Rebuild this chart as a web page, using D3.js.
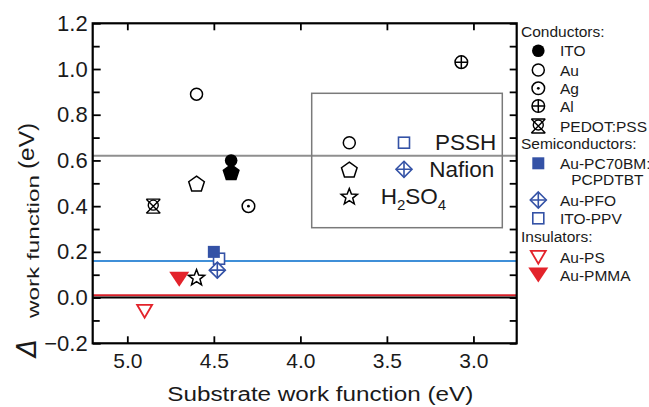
<!DOCTYPE html>
<html>
<head>
<meta charset="utf-8">
<script src="https://cdn.jsdelivr.net/npm/d3@7"></script>
<style>
  html, body { margin: 0; padding: 0; background: #fff; }
  svg { display: block; font-family: "Liberation Sans", Arial, Helvetica, sans-serif; }
</style>
</head>
<body>
<svg id="chart" width="649" height="407"></svg>
<script>
// ---------------- DATA ----------------
const xTicks = [5.0, 4.5, 4.0, 3.5, 3.0];
const yTicks = [-0.2, 0.0, 0.2, 0.4, 0.6, 0.8, 1.0, 1.2];
const yMinorTicks = [-0.1, 0.1, 0.3, 0.5, 0.7, 0.9, 1.1];

// reference lines (value, colour)
const refValues = [0.62, 0.16, 0.01, 0.0];
const refColors = ["#8f8f8f", "#3f8fd8", "#d8202a", "#000000"];

// data points: substrate work function (eV), delta work function (eV), marker
const pedotX = [4.85], pedotY = [0.40];
const auX = [4.60, 4.60, 4.60], auY = [0.89, 0.50, 0.09], auShape = ["circle-open", "pentagon-open", "star-open"];
const itoX = [4.40, 4.40], itoY = [0.55, 0.60], itoShape = ["pentagon-filled", "circle-filled"];
const agX = [4.30], agY = [0.40];
const alX = [3.07], alY = [1.03];
const itoPpvX = [4.47], itoPpvY = [0.17];
const auPfoX = [4.48], auPfoY = [0.12];
const auPcbmX = [4.50], auPcbmY = [0.20];
const auPsX = [4.90], auPsY = [-0.06];
const auPmmaX = [4.70], auPmmaY = [0.08];

const legendGroups = ["Conductors:", "Semiconductors:", "Insulators:"];
const legendConductors = ["ITO", "Au", "Ag", "Al", "PEDOT:PSS"];
const legendConductorShapes = ["circle-filled", "circle-open", "circle-dot", "circle-plus", "pedot"];
const legendSemis = ["Au-PC70BM:", "Au-PFO", "ITO-PPV"];
const legendSemiShapes = ["square-filled", "diamond-plus", "square-open"];
const legendInsulators = ["Au-PS", "Au-PMMA"];
const legendInsulatorShapes = ["tri-open", "tri-filled"];
const insetLabels = ["PSSH", "Nafion", "H2SO4"];

// ---------------- LAYOUT ----------------
const BLUE = "#3452a6", RED = "#e3232b";
const svg = d3.select("#chart");
const L = 92.7, R = 516.7, T = 23.3, B = 343.3;
const x = d3.scaleLinear().domain([5.2, 2.75]).range([L, R]);
const y = d3.scaleLinear().domain([-0.2, 1.2]).range([B, T]);

// ---------------- MARKERS ----------------
function marker(g, type) {
  const sw = 1.5;
  switch (type) {
    case "circle-filled":
      g.append("circle").attr("r", 6.3).attr("fill", "#000"); break;
    case "circle-open":
      g.append("circle").attr("r", 6).attr("fill", "#fff").attr("stroke", "#000").attr("stroke-width", sw); break;
    case "circle-dot":
      g.append("circle").attr("r", 6.3).attr("fill", "#fff").attr("stroke", "#000").attr("stroke-width", sw);
      g.append("circle").attr("r", 1.4).attr("fill", "#000"); break;
    case "circle-plus":
      g.append("circle").attr("r", 6.3).attr("fill", "#fff").attr("stroke", "#000").attr("stroke-width", sw);
      g.append("path").attr("d", "M-6.3,0H6.3M0,-6.3V6.3").attr("stroke", "#000").attr("stroke-width", sw); break;
    case "pedot":
      g.append("path").attr("d", "M-7,-7H7M-7,7H7M-7,-7L7,7M7,-7L-7,7")
        .attr("fill", "none").attr("stroke", "#000").attr("stroke-width", 1.4);
      g.append("circle").attr("cy", -1).attr("r", 5).attr("fill", "none").attr("stroke", "#000").attr("stroke-width", 1.4); break;
    case "pentagon-open":
    case "pentagon-filled": {
      const r = 8.2, pts = [];
      for (let i = 0; i < 5; i++) { const a = -Math.PI / 2 + i * 2 * Math.PI / 5; pts.push([r * Math.cos(a), r * Math.sin(a) + 1]); }
      const filled = type === "pentagon-filled";
      g.append("path").attr("d", "M" + pts.join("L") + "Z")
        .attr("fill", filled ? "#000" : "#fff").attr("stroke", "#000").attr("stroke-width", sw).attr("stroke-linejoin", "miter");
      break; }
    case "star-open": {
      const ro = 8.5, ri = 3.6, pts = [];
      for (let i = 0; i < 10; i++) { const a = -Math.PI / 2 + i * Math.PI / 5; const r = i % 2 ? ri : ro; pts.push([r * Math.cos(a), r * Math.sin(a) + 1]); }
      g.append("path").attr("d", "M" + pts.join("L") + "Z").attr("fill", "#fff").attr("stroke", "#000").attr("stroke-width", sw); break; }
    case "square-filled":
      g.append("rect").attr("x", -6).attr("y", -6).attr("width", 12).attr("height", 12).attr("fill", BLUE); break;
    case "square-open":
      g.append("rect").attr("x", -5.5).attr("y", -5.5).attr("width", 11).attr("height", 11).attr("fill", "#fff").attr("stroke", BLUE).attr("stroke-width", 1.6); break;
    case "diamond-plus":
      g.append("path").attr("d", "M0,-8L8,0L0,8L-8,0Z").attr("fill", "#fff").attr("stroke", BLUE).attr("stroke-width", 1.6);
      g.append("path").attr("d", "M-8,0H8M0,-8V8").attr("stroke", BLUE).attr("stroke-width", 1.6); break;
    case "tri-open":
      g.append("path").attr("d", "M-7.5,-6.5H7.5L0,6.5Z").attr("fill", "#fff").attr("stroke", RED).attr("stroke-width", 1.8).attr("stroke-linejoin", "miter"); break;
    case "tri-filled":
      g.append("path").attr("d", "M-10,-7.5H10L0,7.5Z").attr("fill", RED); break;
  }
}

// ---------------- REFERENCE LINES ----------------
svg.append("g").selectAll("line").data(refValues).join("line")
  .attr("x1", L).attr("x2", R)
  .attr("y1", d => y(d)).attr("y2", d => y(d))
  .attr("stroke", (d, i) => refColors[i]).attr("stroke-width", 2);

// ---------------- INSET LEGEND BOX ----------------
const inset = svg.append("g");
inset.append("rect").attr("x", 311.7).attr("y", 93.3).attr("width", 190.6).attr("height", 134.4)
  .attr("fill", "none").attr("stroke", "#7a7a7a").attr("stroke-width", 1.5);
const insetRows = [142.7, 169.3, 196];
[["circle-open", "square-open"], ["pentagon-open", "diamond-plus"], ["star-open", null]].forEach((pair, i) => {
  marker(inset.append("g").attr("transform", `translate(349.3,${insetRows[i]})`), pair[0]);
  if (pair[1]) marker(inset.append("g").attr("transform", `translate(404,${insetRows[i]})`), pair[1]);
});
inset.append("text").attr("x", 435).attr("y", 150).attr("font-size", 22.5).attr("fill", "#1a1a1a").text(insetLabels[0]);
inset.append("text").attr("x", 429.3).attr("y", 176.7).attr("font-size", 22.5).attr("fill", "#1a1a1a").text(insetLabels[1]);
const h2 = inset.append("text").attr("x", 380.7).attr("y", 204).attr("font-size", 22.5).attr("fill", "#1a1a1a");
h2.append("tspan").text("H");
h2.append("tspan").attr("font-size", 15).attr("dy", 6).text("2");
h2.append("tspan").attr("dy", -6).text("SO");
h2.append("tspan").attr("font-size", 15).attr("dy", 6).text("4");

// ---------------- DATA POINTS ----------------
function plot(xs, ys, shapes) {
  xs.forEach((xv, i) => {
    const shape = Array.isArray(shapes) ? shapes[i] : shapes;
    marker(svg.append("g").attr("transform", `translate(${x(xv)},${y(ys[i])})`), shape);
  });
}
plot(pedotX, pedotY, "pedot");
plot(auX, auY, auShape);
plot(itoX, itoY, itoShape);
plot(agX, agY, "circle-dot");
plot(alX, alY, "circle-plus");
plot(itoPpvX, itoPpvY, "square-open");
plot(auPfoX, auPfoY, "diamond-plus");
plot(auPcbmX, auPcbmY, "square-filled");
plot(auPsX, auPsY, "tri-open");
plot(auPmmaX, auPmmaY, "tri-filled");

// ---------------- AXES ----------------
const axes = svg.append("g");
function styleAxis(g) {
  g.select(".domain").remove();
  g.selectAll(".tick line").attr("stroke", "#000").attr("stroke-width", 1.8);
  g.selectAll(".tick text").attr("fill", "#1a1a1a").attr("font-family", "'Liberation Sans', Arial, sans-serif");
}
axes.append("g").attr("transform", `translate(0,${B})`)
  .call(d3.axisBottom(x).tickValues(xTicks).tickFormat(d3.format(".1f")).tickSize(-7).tickPadding(10))
  .attr("font-size", 21).call(styleAxis);
axes.append("g").attr("transform", `translate(0,${T})`)
  .call(d3.axisTop(x).tickValues(xTicks).tickFormat("").tickSize(-7)).call(styleAxis);
axes.append("g").attr("transform", `translate(${L},0)`)
  .call(d3.axisLeft(y).tickValues(yTicks).tickFormat(d3.format(".1f")).tickSize(-8).tickPadding(5))
  .attr("font-size", 22).call(styleAxis);
axes.append("g").attr("transform", `translate(${L},0)`)
  .call(d3.axisLeft(y).tickValues(yMinorTicks).tickFormat("").tickSize(-7)).call(styleAxis);
axes.append("g").attr("transform", `translate(${R},0)`)
  .call(d3.axisRight(y).tickValues(yTicks.concat(yMinorTicks)).tickFormat("").tickSize(-7)).call(styleAxis);
svg.append("rect").attr("x", L).attr("y", T).attr("width", R - L).attr("height", B - T)
  .attr("fill", "none").attr("stroke", "#000").attr("stroke-width", 2.2);

// axis titles
svg.append("text").attr("x", 320.3).attr("y", 401).attr("text-anchor", "middle")
  .attr("font-size", 20).attr("fill", "#1a1a1a")
  .attr("textLength", 306).attr("lengthAdjust", "spacingAndGlyphs")
  .text("Substrate work function (eV)");

const yt = svg.append("g").attr("transform", "translate(0,0) rotate(-90)").attr("fill", "#1a1a1a");
yt.append("text").attr("x", -357).attr("y", 36).attr("font-size", 26).attr("font-style", "italic")
  .attr("font-family", "'DejaVu Sans', sans-serif").attr("font-weight", 200)
  .text("Δ");
yt.append("text").attr("x", -318).attr("y", 39).attr("font-size", 16)
  .attr("textLength", 143).attr("lengthAdjust", "spacingAndGlyphs").text("work function");
yt.append("text").attr("x", -169).attr("y", 34).attr("font-size", 22)
  .attr("textLength", 46).attr("lengthAdjust", "spacingAndGlyphs").text("(eV)");

// ---------------- RIGHT LEGEND ----------------
const lg = svg.append("g").attr("font-size", 15.5).attr("fill", "#1a1a1a");
const MX = 538.3, TX = 560, GX = 521;
lg.append("text").attr("x", GX).attr("y", 37).text(legendGroups[0]);
const condRows = [50.7, 70, 88.3, 106, 126];
legendConductors.forEach((t, i) => {
  marker(lg.append("g").attr("transform", `translate(${MX},${condRows[i]})`), legendConductorShapes[i]);
  lg.append("text").attr("x", TX).attr("y", condRows[i] + 5.5).text(t);
});
lg.append("text").attr("x", GX).attr("y", 149.3).text(legendGroups[1]);
const semiRows = [163.3, 200, 218.3];
legendSemis.forEach((t, i) => {
  marker(lg.append("g").attr("transform", `translate(${MX},${semiRows[i]})`), legendSemiShapes[i]);
  lg.append("text").attr("x", TX).attr("y", semiRows[i] + 5.5).text(t);
});
lg.append("text").attr("x", 643.5).attr("y", 185).attr("text-anchor", "end").text("PCPDTBT");
lg.append("text").attr("x", GX).attr("y", 241.7).text(legendGroups[2]);
const insRows = [257.3, 275];
legendInsulators.forEach((t, i) => {
  marker(lg.append("g").attr("transform", `translate(${MX},${insRows[i]})`), legendInsulatorShapes[i]);
  lg.append("text").attr("x", TX).attr("y", insRows[i] + 5.5).text(t);
});
</script>
</body>
</html>
